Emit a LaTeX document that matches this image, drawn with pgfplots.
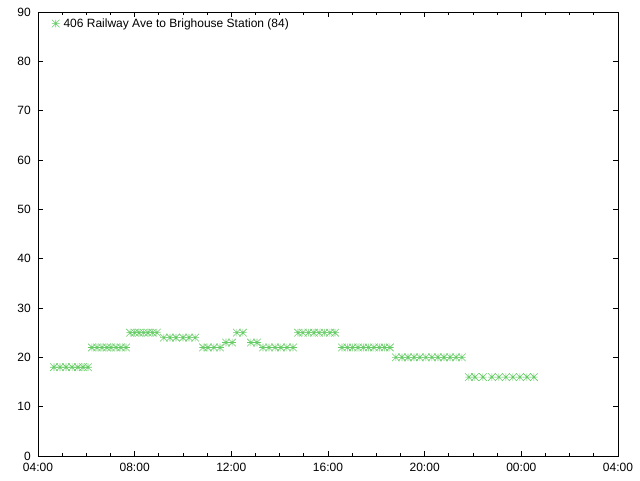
\documentclass[border=0pt]{standalone}
\usepackage{pgfplots}
\pgfplotsset{compat=1.18}
\usepackage{fontspec}
\setmainfont{Liberation Sans}
\definecolor{gpgreen}{RGB}{102,204,102}
\pgfdeclareplotmark{gpast}{%
  \pgfpathmoveto{\pgfqpoint{-\pgfplotmarksize}{0pt}}%
  \pgfpathlineto{\pgfqpoint{\pgfplotmarksize}{0pt}}%
  \pgfpathmoveto{\pgfqpoint{0pt}{-\pgfplotmarksize}}%
  \pgfpathlineto{\pgfqpoint{0pt}{\pgfplotmarksize}}%
  \pgfpathmoveto{\pgfqpoint{-\pgfplotmarksize}{-\pgfplotmarksize}}%
  \pgfpathlineto{\pgfqpoint{\pgfplotmarksize}{\pgfplotmarksize}}%
  \pgfpathmoveto{\pgfqpoint{-\pgfplotmarksize}{\pgfplotmarksize}}%
  \pgfpathlineto{\pgfqpoint{\pgfplotmarksize}{-\pgfplotmarksize}}%
  \pgfusepathqstroke}
\begin{document}
\fontsize{12}{14}\selectfont
\begin{tikzpicture}
\useasboundingbox (-38pt,-24pt) rectangle (602pt,456pt);
\begin{axis}[
  scale only axis,
  width=580pt, height=444pt,
  xmin=4, xmax=28, ymin=0, ymax=90,
  xtick={4,8,12,16,20,24,28},
  xticklabels={04:00,08:00,12:00,16:00,20:00,00:00,04:00},
  minor x tick num=3,
  ytick={0,10,...,90},
  tick align=inside,
  major tick length=5pt, minor tick length=3pt,
  tick style={black, line width=0.8pt},
  axis line style={line width=0.8pt},
  ticklabel style={font=\fontsize{12}{14}\selectfont},
  /pgf/number format/assume math mode=true,
  xticklabel style={yshift=-3pt},
  yticklabel style={xshift=-3pt},
  legend style={at={(0.022,0.993)}, anchor=north west, draw=none, fill=none,
    font=\fontsize{12}{14}\selectfont, inner sep=1pt},
  legend cell align=left,
  legend image code/.code={\draw[mark repeat=2,mark phase=2] plot coordinates {(0cm,0cm) (0.15cm,0cm) (0.3cm,0cm)};},
]
\addplot[only marks, mark=gpast, mark size=3.8pt, color=gpgreen, line width=0.6pt]
coordinates {
(4.66,18)(4.91,18)(5.16,18)(5.41,18)(5.65,18)(5.86,18)(6.07,18)
(6.23,22)(6.44,22)(6.65,22)(6.85,22)(7.02,22)(7.23,22)(7.43,22)(7.64,22)
(7.81,25)(8.00,25)(8.18,25)(8.37,25)(8.55,25)(8.74,25)(8.92,25)
(9.21,24)(9.46,24)(9.71,24)(10.00,24)(10.25,24)(10.50,24)
(10.83,22)(11.03,22)(11.28,22)(11.53,22)
(11.78,23)(12.03,23)
(12.23,25)(12.48,25)
(12.81,23)(13.06,23)
(13.31,22)(13.56,22)(13.81,22)(14.05,22)(14.30,22)(14.55,22)
(14.76,25)(14.96,25)(15.19,25)(15.42,25)(15.63,25)(15.85,25)(16.08,25)(16.29,25)
(16.58,22)(16.80,22)(17.02,22)(17.24,22)(17.46,22)(17.68,22)(17.90,22)(18.12,22)(18.34,22)(18.56,22)
(18.81,20)(19.06,20)(19.31,20)(19.56,20)(19.80,20)(20.05,20)(20.30,20)(20.55,20)(20.80,20)(21.05,20)(21.30,20)(21.54,20)
(21.83,16)(22.08,16)(22.41,16)(22.78,16)(23.07,16)(23.36,16)(23.65,16)(23.94,16)(24.23,16)(24.52,16)
};
\addlegendentry{\hspace{2pt}406 Railway Ave to Brighouse Station (84)}
\end{axis}
\end{tikzpicture}
\end{document}
